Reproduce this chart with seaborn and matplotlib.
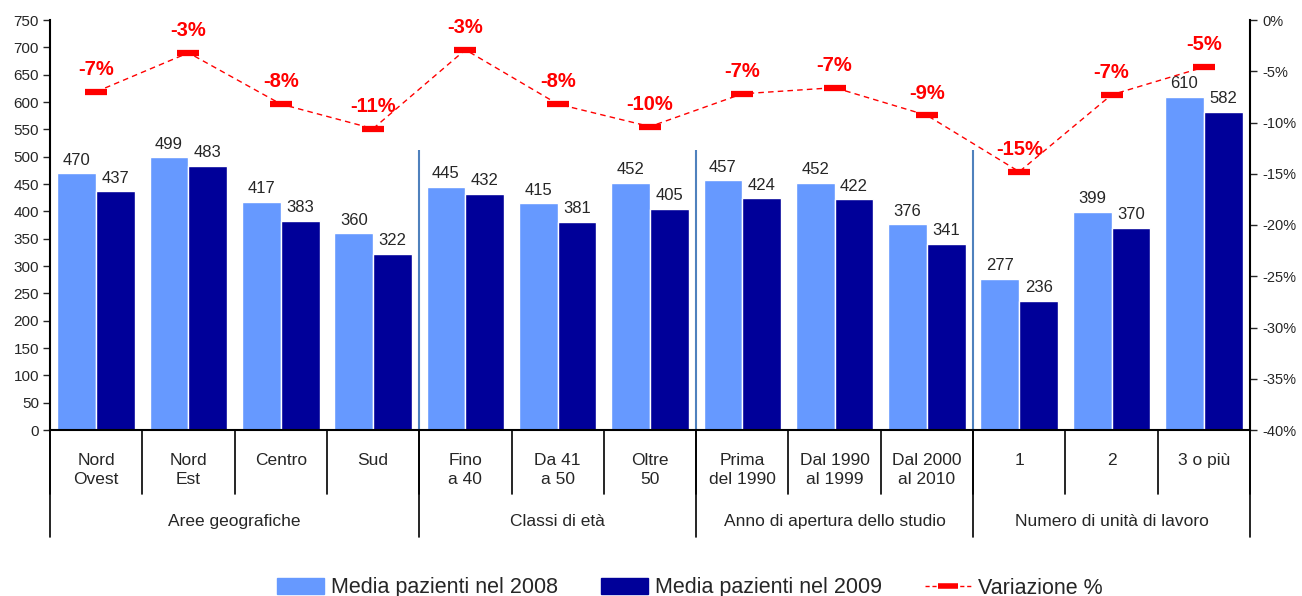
import numpy as np
import pandas as pd
import seaborn as sns
import matplotlib.pyplot as plt
from matplotlib.patches import Patch
from matplotlib.lines import Line2D
from matplotlib.ticker import FuncFormatter, MultipleLocator

# data
categorie = ["Nord\nOvest", "Nord\nEst", "Centro", "Sud",
             "Fino\na 40", "Da 41\na 50", "Oltre\n50",
             "Prima\ndel 1990", "Dal 1990\nal 1999", "Dal 2000\nal 2010",
             "1", "2", "3 o più"]
gruppi = ["Aree geografiche", "Classi di età",
          "Anno di apertura dello studio", "Numero di unità di lavoro"]
dim_gruppi = [4, 3, 3, 3]
media_2008 = [470, 499, 417, 360, 445, 415, 452, 457, 452, 376, 277, 399, 610]
media_2009 = [437, 483, 383, 322, 432, 381, 405, 424, 422, 341, 236, 370, 582]
variazione = [-7.0, -3.2, -8.2, -10.6, -2.9, -8.2, -10.4, -7.2, -6.6, -9.3, -14.8, -7.3, -4.6]

serie = ["Media pazienti nel 2008", "Media pazienti nel 2009"]
colori = ["#6699FF", "#000099"]

df = pd.DataFrame({
    "cat": categorie * 2,
    "val": media_2008 + media_2009,
    "serie": [serie[0]] * len(categorie) + [serie[1]] * len(categorie),
})

sns.set_style("white")
plt.rcParams["font.family"] = ["Liberation Sans", "DejaVu Sans"]

fig = plt.figure(figsize=(13.02, 5.96), dpi=100)
ax = fig.add_axes([50 / 1302, 166 / 596, 1200 / 1302, 410 / 596])

sns.barplot(data=df, x="cat", y="val", hue="serie", palette=colori,
            width=0.84, saturation=1, ax=ax, legend=False, order=categorie)
for cont in ax.containers:
    ax.bar_label(cont, fontsize=12, padding=4)

ax.set_xlim(-0.5, len(categorie) - 0.5)
ax.set_ylim(0, 750)
ax.yaxis.set_major_locator(MultipleLocator(50))
ax.set_xlabel("")
ax.set_ylabel("")
ax.set_xticks([])
ax.tick_params(axis="y", left=True, direction="out", length=5, width=1,
               labelsize=11, pad=3)
for s in ["top", "right"]:
    ax.spines[s].set_visible(False)
for s in ["left", "bottom"]:
    ax.spines[s].set_color("black")
    ax.spines[s].set_linewidth(1.5)

# separators between groups inside the plot
confini = np.cumsum(dim_gruppi)[:-1] - 0.5
ax.vlines(confini, 0, 512, color="#4F81BD", lw=1.5, zorder=0)

# category labels and separators below the axis
trans = ax.get_xaxis_transform()
for i, c in enumerate(categorie):
    ax.text(i, -0.055, c, transform=trans, ha="center", va="top",
            fontsize=12.5, linespacing=1.4)
for b in np.arange(len(categorie) + 1) - 0.5:
    ax.plot([b, b], [0, -0.155], transform=trans, color="black", lw=1.2,
            clip_on=False)
start = 0
for g, n in zip(gruppi, dim_gruppi):
    ax.plot([start - 0.5, start - 0.5], [0, -0.262], transform=trans,
            color="black", lw=1.2, clip_on=False)
    ax.text(start + n / 2 - 0.5, -0.222, g, transform=trans, ha="center",
            va="center", fontsize=12.5)
    start += n
ax.plot([start - 0.5, start - 0.5], [0, -0.262], transform=trans,
        color="black", lw=1.2, clip_on=False)

# secondary axis with percentage change
ax2 = ax.twinx()
x = np.arange(len(categorie))
ax2.plot(x, variazione, color="red", lw=1, ls=(0, (4, 3)),
         marker="_", markersize=16, mew=4.5)
for xi, v in zip(x, variazione):
    ax2.annotate(f"{round(v):d}%", (xi, v), xytext=(0, 16),
                 textcoords="offset points", ha="center", va="center",
                 color="red", fontsize=14.5, fontweight="bold")
ax2.set_ylim(-40, 0)
ax2.yaxis.set_major_locator(MultipleLocator(5))
ax2.yaxis.set_major_formatter(FuncFormatter(lambda v, p: f"{v:.0f}%"))
ax2.tick_params(axis="y", right=True, direction="out", length=5, width=1,
                labelsize=10.5, pad=4)
for s in ["top", "left", "bottom"]:
    ax2.spines[s].set_visible(False)
ax2.spines["right"].set_color("black")
ax2.spines["right"].set_linewidth(1.5)
ax2.grid(False)
ax.grid(False)

handles = [Patch(color=colori[0], label=serie[0]),
           Patch(color=colori[1], label=serie[1]),
           Line2D([0], [0], color="red", lw=1, ls=(0, (3, 2)), marker="_",
                  markersize=14, mew=4, label="Variazione %")]
fig.legend(handles=handles, loc="center", bbox_to_anchor=(690 / 1302, 8 / 596),
           ncol=3, frameon=False, fontsize=15.5, handlelength=2.2,
           handleheight=0.8, columnspacing=2.0, handletextpad=0.3)

fig.savefig("out.png", dpi=100)
